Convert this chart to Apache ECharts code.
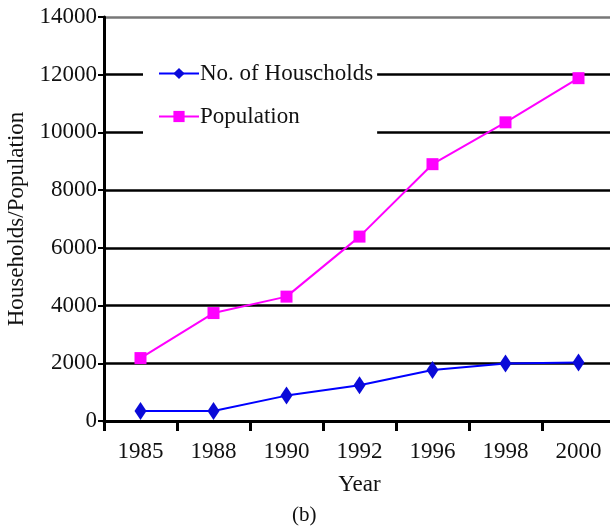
<!DOCTYPE html>
<html>
<head>
<meta charset="utf-8">
<script src="https://cdn.jsdelivr.net/npm/echarts@6/dist/echarts.min.js"></script>
<style>html,body{margin:0;padding:0;background:#fff;}#c{width:610px;height:531px;}</style>
</head>
<body>
<div id="c"></div>
<script>
var years = ['1985', '1988', '1990', '1992', '1996', '1998', '2000'];
var households = [350, 350, 880, 1240, 1770, 1990, 2030];
var population = [2180, 3740, 4310, 6390, 8900, 10350, 11880];
var yTicks = [0, 2000, 4000, 6000, 8000, 10000, 12000, 14000];

var font = '"Liberation Serif", "Times New Roman", serif';
var chart = echarts.init(document.getElementById('c'));
chart.setOption({
  animation: false,
  backgroundColor: '#fff',
  grid: { left: 104, top: 17, width: 511, bottom: 110, containLabel: false, outerBoundsMode: 'none' },
  legend: {
    orient: 'vertical',
    left: 143,
    top: 56,
    padding: [6, 4, 8, 15],
    backgroundColor: '#fff',
    itemWidth: 40,
    itemHeight: 14,
    itemGap: 20,
    textStyle: { fontFamily: font, fontSize: 23, color: '#111', padding: [0, 0, 0, -4] },
    data: ['No. of Houscholds', 'Population']
  },
  xAxis: {
    type: 'category',
    data: years,
    boundaryGap: true,
    name: 'Year',
    nameLocation: 'middle',
    nameGap: 52,
    nameTextStyle: { fontFamily: font, fontSize: 23, color: '#111' },
    axisLine: { lineStyle: { color: '#000', width: 3 } },
    axisTick: { show: true, length: 10, lineStyle: { color: '#000', width: 3 } },
    axisLabel: { fontFamily: font, fontSize: 23, color: '#111', margin: 19 }
  },
  yAxis: {
    type: 'value',
    min: yTicks[0],
    max: yTicks[yTicks.length - 1],
    interval: 2000,
    name: 'Households/Population',
    nameLocation: 'middle',
    nameGap: 76,
    nameTextStyle: { fontFamily: font, fontSize: 23, color: '#111' },
    axisLine: { show: true, lineStyle: { color: '#000', width: 3 } },
    axisTick: { show: true, length: 6, lineStyle: { color: '#000', width: 2 } },
    axisLabel: { fontFamily: font, fontSize: 23, color: '#111', margin: 7, formatter: function (v) { return String(v); } },
    splitLine: { show: true, lineStyle: { color: ['#000', '#000', '#000', '#000', '#000', '#000', '#000', '#777'], width: 2.5 } }
  },
  series: [
    {
      name: 'No. of Houscholds',
      type: 'line',
      data: households,
      symbol: 'diamond',
      symbolSize: [12, 18],
      z: 3,
      itemStyle: { color: '#0a0ad8' },
      lineStyle: { color: '#0000ff', width: 2 }
    },
    {
      name: 'Population',
      type: 'line',
      data: population,
      symbol: 'rect',
      symbolSize: 12,
      z: 3,
      itemStyle: { color: '#ff00ff' },
      lineStyle: { color: '#ff00ff', width: 2 }
    }
  ],
  graphic: [
    { type: 'text', left: 292, top: 505, style: { text: '(b)', font: '21px ' + font, fill: '#111' } }
  ]
});
</script>
</body>
</html>
